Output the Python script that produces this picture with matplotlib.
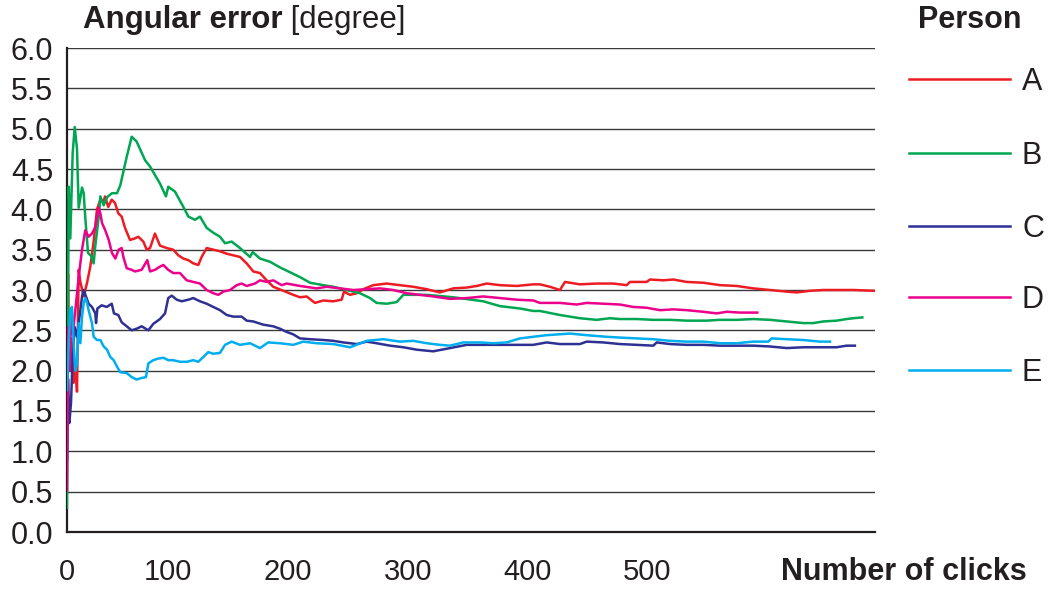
import matplotlib
matplotlib.use("Agg")
import matplotlib.pyplot as plt
from matplotlib.lines import Line2D
from matplotlib import font_manager

names = {f.name for f in font_manager.fontManager.ttflist}
MAIN = ['Liberation Sans', 'DejaVu Sans']
NARROW = ['Liberation Sans Narrow', 'Liberation Sans', 'DejaVu Sans'] if 'Liberation Sans Narrow' in names else MAIN
plt.rcParams['font.family'] = MAIN

persons = ['A', 'B', 'C', 'D', 'E']
colors = ['#ED1C24', '#00A651', '#2E3192', '#EC008C', '#00AEEF']

x_ticks = [100, 200, 300, 400, 500]
y_ticks = [0.0, 0.5, 1.0, 1.5, 2.0, 2.5, 3.0, 3.5, 4.0, 4.5, 5.0, 5.5, 6.0]
x_min, x_max = 15.45, 690.2

a_x = [15.45, 16.3, 17.4, 19.1, 21.0, 22.4, 23.8, 25.2, 26.6, 29.4, 32.2, 34.9, 37.7, 40.5, 43.3, 46.1,
       47.2, 49.9, 52.8, 55.5, 58.3, 61.1, 63.9, 68.1, 72.2, 75.0, 79.2, 82.0, 84.8, 88.9, 93.1, 98.7,
       104.2, 108.4, 112.6, 116.8, 120.9, 125.1, 127.9, 132.1, 137.6, 143.2, 148.8, 154.3, 159.9, 165.5,
       171.0, 176.6, 182.2, 187.7, 196.1, 204.4, 210.0, 215.6, 222.5, 229.5, 237.8, 244.8, 246.8, 251.8,
       257.4, 262.9, 271.2, 282.4, 293.5, 304.6, 315.8, 326.9, 338.0, 349.2, 357.6, 365.9, 377.0, 391.0,
       404.8, 410.4, 418.8, 427.1, 431.3, 443.8, 457.8, 471.6, 482.8, 485.6, 499.5, 502.3, 513.4, 521.8,
       532.9, 546.8, 560.8, 574.7, 588.6, 602.5, 616.4, 624.8, 635.9, 647.0, 658.2, 672.1, 690.2]
a_y = [2.4, 3.2, 2.0, 2.4, 1.85, 2.1, 1.74, 3.25, 3.1, 2.92, 3.09, 3.29, 3.6, 4.0, 4.12, 4.1,
       4.16, 4.03, 4.12, 4.08, 3.95, 3.91, 3.77, 3.62, 3.64, 3.66, 3.6, 3.5, 3.52, 3.7, 3.55, 3.52,
       3.5, 3.43, 3.39, 3.37, 3.33, 3.31, 3.41, 3.52, 3.5, 3.48, 3.45, 3.43, 3.41, 3.33,
       3.23, 3.21, 3.12, 3.04, 2.99, 2.94, 2.91, 2.92, 2.84, 2.87, 2.86, 2.88, 2.98, 2.94,
       2.96, 3.01, 3.06, 3.08, 3.06, 3.04, 3.01, 2.97, 3.02, 3.03, 3.05, 3.08, 3.06, 3.05,
       3.07, 3.07, 3.04, 3.0, 3.10, 3.07, 3.08, 3.08, 3.06, 3.10, 3.10, 3.13, 3.12, 3.13,
       3.10, 3.09, 3.06, 3.05, 3.02, 3.0, 2.98, 2.97, 2.99, 3.0, 3.0, 3.0, 2.99]

b_x = [15.45, 16.9, 18.2, 20.2, 21.9, 23.8, 25.2, 28.0, 29.4, 30.7, 33.0, 35.7, 37.7, 39.1, 41.9, 43.3,
       46.1, 48.9, 53.0, 57.2, 60.0, 65.3, 69.5, 73.6, 80.6, 84.8, 93.1, 98.1, 100.0, 105.6, 112.6, 116.8,
       122.3, 126.5, 132.1, 137.6, 143.2, 147.4, 153.0, 159.9, 168.3, 170.5, 176.6, 185.0, 193.3, 201.7,
       210.0, 218.4, 229.5, 237.8, 249.0, 260.1, 268.5, 274.0, 282.4, 290.8, 296.3, 315.8, 338.0, 363.1,
       377.0, 394.0, 404.8, 410.4, 427.1, 443.8, 457.8, 468.9, 477.2, 491.2, 505.1, 519.0, 532.9, 549.6,
       560.8, 574.7, 588.6, 602.5, 616.4, 630.3, 638.7, 647.0, 658.2, 666.5, 672.1, 679.6]
b_y = [0.3, 4.28, 3.64, 4.7, 5.02, 4.75, 4.02, 4.27, 4.2, 3.9, 3.46, 3.42, 3.33, 3.55, 3.9, 4.16,
       4.05, 4.15, 4.2, 4.2, 4.3, 4.65, 4.9, 4.84, 4.61, 4.53, 4.32, 4.16, 4.28, 4.22, 4.03, 3.91,
       3.87, 3.91, 3.77, 3.71, 3.66, 3.58, 3.6, 3.52, 3.41, 3.47, 3.39, 3.35, 3.28, 3.22,
       3.16, 3.09, 3.06, 3.04, 3.0, 2.96, 2.90, 2.84, 2.83, 2.85, 2.94, 2.94, 2.91, 2.86,
       2.80, 2.77, 2.74, 2.74, 2.69, 2.65, 2.63, 2.65, 2.64, 2.64, 2.63, 2.63, 2.62, 2.62,
       2.63, 2.63, 2.64, 2.63, 2.61, 2.59, 2.59, 2.61, 2.62, 2.64, 2.65, 2.66]

c_x = [15.45, 16.3, 17.4, 18.8, 20.2, 21.9, 23.8, 26.6, 28.0, 29.4, 31.3, 33.5, 36.3, 39.1, 39.7, 40.8,
       44.4, 48.6, 52.8, 54.7, 58.3, 61.1, 65.3, 69.5, 73.6, 77.8, 83.4, 87.5, 93.1, 97.3, 100.0, 102.9,
       107.1, 111.2, 116.8, 120.9, 126.5, 132.1, 137.6, 143.2, 148.8, 154.3, 161.3, 165.5, 171.0, 179.4,
       187.7, 193.3, 198.9, 204.4, 210.0, 218.4, 229.5, 237.8, 246.2, 257.4, 265.7, 274.0, 285.2, 296.3,
       307.5, 321.3, 335.3, 349.2, 363.1, 377.0, 391.0, 404.8, 416.0, 427.1, 443.8, 449.4, 463.3, 477.2,
       491.2, 505.1, 507.9, 519.0, 532.9, 546.8, 560.8, 574.7, 588.6, 602.5, 616.4, 630.3, 644.2, 658.2,
       666.5, 673.4]
c_y = [0.9, 1.9, 1.35, 1.6, 2.2, 2.54, 2.42, 2.75, 2.92, 3.0, 2.92, 2.83, 2.79, 2.71, 2.59, 2.77,
       2.81, 2.79, 2.83, 2.71, 2.69, 2.6, 2.55, 2.5, 2.52, 2.55, 2.5, 2.58, 2.64, 2.71, 2.9, 2.93,
       2.88, 2.86, 2.88, 2.9, 2.86, 2.83, 2.79, 2.75, 2.69, 2.67, 2.67, 2.62, 2.61, 2.57,
       2.55, 2.52, 2.48, 2.45, 2.40, 2.39, 2.38, 2.37, 2.35, 2.33, 2.36, 2.34, 2.31, 2.29,
       2.26, 2.24, 2.28, 2.32, 2.32, 2.32, 2.32, 2.32, 2.35, 2.33, 2.33, 2.36, 2.35, 2.33,
       2.32, 2.31, 2.35, 2.33, 2.32, 2.32, 2.31, 2.31, 2.31, 2.30, 2.28, 2.29, 2.29, 2.29,
       2.31, 2.31]

d_x = [15.45, 16.3, 17.4, 18.8, 19.6, 20.2, 22.4, 25.2, 28.0, 30.7, 33.5, 36.3, 39.1, 40.5, 41.9, 43.3,
       44.7, 47.4, 50.3, 53.0, 55.8, 58.6, 61.1, 62.5, 65.3, 69.5, 72.2, 77.8, 82.5, 84.8, 88.9, 93.1,
       95.9, 100.0, 104.2, 109.8, 115.4, 120.9, 126.5, 132.1, 137.6, 141.8, 146.0, 151.6, 157.2, 161.3,
       165.5, 172.4, 176.6, 182.2, 187.7, 194.7, 198.9, 210.0, 224.0, 232.3, 243.4, 254.5, 265.7, 276.8,
       287.9, 299.1, 310.2, 321.3, 335.3, 349.2, 363.1, 377.0, 391.0, 404.8, 410.4, 427.1, 441.0, 449.4,
       463.3, 477.2, 488.3, 499.5, 510.6, 521.8, 532.9, 546.8, 558.0, 566.3, 577.5, 591.9]
d_y = [0.52, 2.54, 2.0, 2.6, 2.67, 2.45, 2.75, 3.16, 3.5, 3.74, 3.66, 3.7, 3.78, 3.91, 4.02, 3.95,
       3.83, 3.74, 3.62, 3.46, 3.39, 3.5, 3.52, 3.41, 3.27, 3.25, 3.23, 3.25, 3.37, 3.23, 3.25, 3.29,
       3.31, 3.25, 3.21, 3.21, 3.12, 3.10, 3.08, 3.0, 2.96, 2.94, 2.98, 3.0, 3.06, 3.08,
       3.05, 3.08, 3.12, 3.10, 3.12, 3.06, 3.08, 3.05, 3.02, 3.04, 3.02, 3.0, 3.01, 3.02,
       3.0, 2.96, 2.94, 2.92, 2.89, 2.9, 2.92, 2.9, 2.88, 2.87, 2.84, 2.84, 2.82, 2.84,
       2.83, 2.82, 2.79, 2.78, 2.75, 2.76, 2.75, 2.73, 2.71, 2.73, 2.72, 2.72]

e_x = [15.45, 16.9, 18.2, 19.6, 21.0, 22.4, 23.8, 25.2, 26.6, 28.0, 29.4, 30.7, 32.2, 33.5, 36.3, 37.7,
       40.5, 43.3, 46.1, 48.9, 51.6, 54.4, 57.2, 60.0, 65.3, 69.5, 73.6, 77.8, 81.4, 83.4, 87.5, 91.7,
       95.9, 100.0, 104.2, 109.8, 115.4, 120.9, 125.1, 129.3, 133.4, 137.6, 143.2, 147.4, 153.0, 159.9,
       168.3, 176.6, 183.5, 193.3, 204.4, 212.8, 224.0, 237.8, 251.8, 265.7, 279.6, 293.5, 304.6, 315.8,
       326.9, 335.3, 346.4, 360.3, 371.4, 382.6, 393.7, 404.8, 416.0, 435.5, 449.4, 466.1, 477.2, 491.2,
       505.1, 519.0, 532.9, 546.8, 560.8, 574.7, 588.6, 601.1, 603.9, 616.4, 630.3, 644.2, 652.6]
e_y = [1.76, 2.34, 2.75, 2.79, 2.34, 2.0, 2.09, 2.59, 2.34, 2.67, 2.84, 2.9, 2.84, 2.75, 2.59, 2.42,
       2.38, 2.38, 2.30, 2.26, 2.17, 2.13, 2.05, 1.98, 1.97, 1.92, 1.89, 1.91, 1.92, 2.09, 2.13, 2.15,
       2.16, 2.13, 2.13, 2.11, 2.11, 2.13, 2.11, 2.17, 2.23, 2.21, 2.22, 2.32, 2.36, 2.32,
       2.34, 2.28, 2.35, 2.34, 2.32, 2.36, 2.34, 2.33, 2.29, 2.37, 2.39, 2.36, 2.37, 2.34,
       2.32, 2.31, 2.35, 2.35, 2.34, 2.35, 2.40, 2.42, 2.44, 2.46, 2.44, 2.42, 2.41, 2.40,
       2.39, 2.37, 2.36, 2.36, 2.34, 2.34, 2.36, 2.36, 2.40, 2.39, 2.38, 2.36, 2.36]

series_x = [a_x, b_x, c_x, d_x, e_x]
series_y = [a_y, b_y, c_y, d_y, e_y]

W, H = 1048, 590
fig = plt.figure(figsize=(W / 100, H / 100), dpi=100)
ax = fig.add_axes([67 / W, (H - 532) / H, (875 - 67) / W, (532 - 48) / H])

for yv in y_ticks[1:]:
    ax.axhline(yv, color='#3a3a3a', lw=1.0, zorder=1)

for xs, ys, c in zip(series_x, series_y, colors):
    ax.plot(xs, ys, color=c, lw=1.8, zorder=3, solid_joinstyle='round')

ax.set_xlim(x_min, x_max)
ax.set_ylim(0, 6.0)
ax.set_yticks(y_ticks)
ax.set_yticklabels([f'{v:.1f}' for v in y_ticks], fontsize=22, family=MAIN, color='#231f20')
ax.set_xticks([x_min] + x_ticks)
ax.set_xticklabels(['0'] + [str(v) for v in x_ticks], fontsize=21, family=NARROW, color='#231f20')
ax.tick_params(axis='both', length=0)
ax.tick_params(axis='y', pad=10)
ax.tick_params(axis='x', pad=19)
for s in ['top', 'right']:
    ax.spines[s].set_visible(False)
for s in ['left', 'bottom']:
    ax.spines[s].set_linewidth(1.6)
    ax.spines[s].set_color('#231f20')

t1 = fig.text(83 / W, 1 - 20 / H, 'Angular error', fontsize=22.5, fontweight='bold',
              ha='left', va='center', color='#231f20')
ax.annotate(' [degree]', xy=(1, 0), xycoords=t1, ha='left', va='bottom',
            fontsize=22.5, color='#231f20')
fig.text(970 / W, 1 - 20 / H, 'Person', fontsize=22, fontweight='bold',
         ha='center', va='center', color='#231f20')
fig.text(1027 / W, 1 - 572 / H, 'Number of clicks', fontsize=22, fontweight='bold',
         ha='right', va='center', color='#231f20', family=NARROW)

leg_y = [79, 153, 226, 297, 370]
for p, c, yy in zip(persons, colors, leg_y):
    fig.add_artist(Line2D([909 / W, 1010 / W], [1 - yy / H, 1 - yy / H], color=c, lw=1.8,
                          transform=fig.transFigure))
    fig.text(1022 / W, 1 - (yy + 3) / H, p, fontsize=22, ha='left', va='center', color='#231f20')

fig.savefig('out.png', dpi=100)
